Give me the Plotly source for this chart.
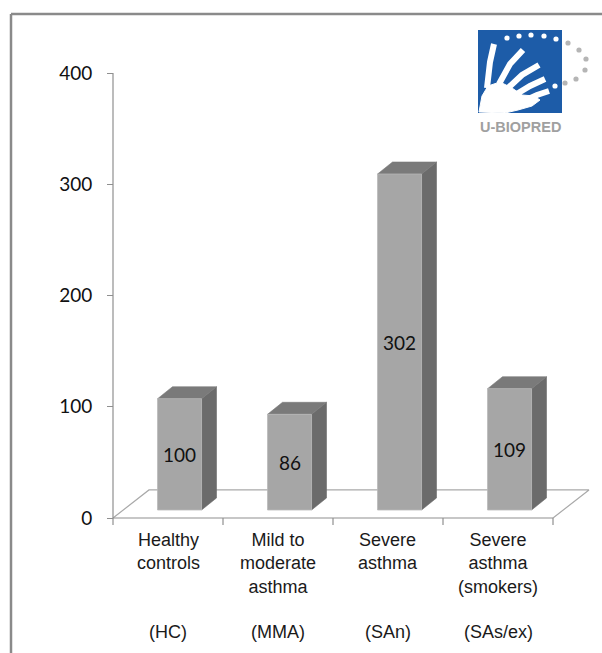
import plotly.graph_objects as go

# ---------------- data ----------------
categories = ["Healthy<br>controls", "Mild to<br>moderate<br>asthma",
              "Severe<br>asthma", "Severe<br>asthma<br>(smokers)"]
abbreviations = ["(HC)", "(MMA)", "(SAn)", "(SAs/ex)"]
values = [100, 86, 302, 109]
y_ticks = [0, 100, 200, 300, 400]

# ---------------- pseudo-3D geometry (axis units) ----------------
BAR_W = 0.40          # bar width in category units
FRONT_DX, FRONT_DY = 0.105, 7.2    # shift of bar front plane from floor front edge
DEPTH_DX, DEPTH_DY = 0.136, 10.8   # bar depth projection
FLOOR_DX, FLOOR_DY = 0.327, 25.2   # floor depth projection
TICK_LEN = 6.3

W, H = 602, 653
PX_PER_CAT, PX_PER_VAL = 110.0, 1.1125
AX_X_PX, AX_Y_PX = 113.0, 518.0    # pixel position of (x=-0.5, y=0)

x_range = [-0.5 - AX_X_PX / PX_PER_CAT, -0.5 + (W - AX_X_PX) / PX_PER_CAT]
y_range = [-(H - AX_Y_PX) / PX_PER_VAL, AX_Y_PX / PX_PER_VAL]

AXIS_COL = "#8f8f8f"
FRONT_COL = "#a6a6a6"
SIDE_COL = "#6b6b6b"
TOP_COL = "#7a7a7a"

fig = go.Figure()
n = len(values)
xl, xr = -0.5, n - 0.5

def poly(xs, ys, color, lc=None, lw=0.6):
    fig.add_trace(go.Scatter(x=xs + [xs[0]], y=ys + [ys[0]], mode="lines",
                             fill="toself", fillcolor=color,
                             line=dict(color=lc or color, width=lw),
                             hoverinfo="skip", showlegend=False))

# floor outline
fig.add_trace(go.Scatter(x=[xl, xl + FLOOR_DX, xr + FLOOR_DX, xr],
                         y=[0, FLOOR_DY, FLOOR_DY, 0], mode="lines",
                         line=dict(color="#a9a9a9", width=1.2),
                         hoverinfo="skip", showlegend=False))

# baseline + category ticks
bx, by = [xl, xr], [0, 0]
for k in range(n + 1):
    bx += [None, xl + k, xl + k]
    by += [None, 0, -TICK_LEN]
fig.add_trace(go.Scatter(x=bx, y=by, mode="lines",
                         line=dict(color=AXIS_COL, width=1.2),
                         hoverinfo="skip", showlegend=False))

# value axis line
fig.add_trace(go.Scatter(x=[xl, xl], y=[0, max(y_ticks)], mode="lines",
                         line=dict(color=AXIS_COL, width=1.2),
                         hoverinfo="skip", showlegend=False))

# bars
for i, v in enumerate(values):
    x0 = i + FRONT_DX - BAR_W / 2
    x1 = x0 + BAR_W
    y0 = FRONT_DY
    y1 = v + FRONT_DY
    poly([x1, x1, x1 + DEPTH_DX, x1 + DEPTH_DX],
         [y0, y1, y1 + DEPTH_DY, y0 + DEPTH_DY], SIDE_COL)
    poly([x0, x0 + DEPTH_DX, x1 + DEPTH_DX, x1],
         [y1, y1 + DEPTH_DY, y1 + DEPTH_DY, y1], TOP_COL)
    poly([x0, x0, x1, x1], [y0, y1, y1, y0], FRONT_COL, lc="#b8b8b8", lw=0.8)
    fig.add_annotation(x=i + FRONT_DX, y=y0 + v / 2, text=str(v), showarrow=False,
                       font=dict(family="Lato", size=19, color="#111111"),
                       xanchor="center", yanchor="middle")

# category labels
for i, (c, a) in enumerate(zip(categories, abbreviations)):
    fig.add_annotation(x=i, y=-9, text=c, showarrow=False, xanchor="center",
                       yanchor="top", align="center",
                       font=dict(family="Liberation Sans", size=18, color="#1a1a1a"))
    fig.add_annotation(x=i, y=-102.5, text=a, showarrow=False, xanchor="center",
                       yanchor="middle",
                       font=dict(family="Liberation Sans", size=18, color="#1a1a1a"))

# ---------------- decoration: frame + logo ----------------
def px(xp):
    return xp / W

def py(yp):
    return 1 - yp / H

shapes = [
    dict(type="line", xref="paper", yref="paper", x0=px(11), x1=px(602), y0=py(14), y1=py(14),
         line=dict(color="#8a8a8a", width=2.5)),
    dict(type="line", xref="paper", yref="paper", x0=px(11), x1=px(11), y0=py(14), y1=py(653),
         line=dict(color="#8a8a8a", width=2.5)),
    dict(type="rect", xref="paper", yref="paper", x0=px(478), x1=px(562), y0=py(113), y1=py(30),
         fillcolor="#1d5ca8", line=dict(width=0)),
]

def path_px(points):
    return "M " + " L ".join(f"{px(a):.5f},{py(b):.5f}" for a, b in points) + " Z"

# hand (white)
palm = [(479, 112), (482, 96), (488, 86), (500, 82), (512, 88), (522, 95),
        (534, 96), (540, 100), (532, 106), (518, 110), (505, 113)]
shapes.append(dict(type="path", xref="paper", yref="paper", path=path_px(palm),
                   fillcolor="white", line=dict(color="white", width=1)))
fingers = [((487, 88), (490, 62), (494, 44)),
           ((499, 84), (510, 64), (523, 50)),
           ((508, 88), (522, 75), (539, 65)),
           ((515, 95), (530, 86), (545, 79)),
           ((524, 101), (537, 95), (549, 91))]
for pts in fingers:
    path = "M " + " L ".join(f"{px(a):.5f},{py(b):.5f}" for a, b in pts)
    shapes.append(dict(type="path", xref="paper", yref="paper", path=path,
                       line=dict(color="white", width=6)))
# dots
white_dots = [(507, 38), (519, 36), (531, 35), (544, 36), (556, 39), (555, 86)]
grey_dots = [(568, 43), (579, 50), (586, 59), (585, 70), (576, 79), (565, 83)]
for (a, b) in white_dots + grey_dots:
    col = "white" if (a, b) in white_dots else "#b5b5b5"
    shapes.append(dict(type="circle", xref="paper", yref="paper",
                       x0=px(a - 2.6), x1=px(a + 2.6), y0=py(b + 2.6), y1=py(b - 2.6),
                       fillcolor=col, line=dict(width=0)))

fig.add_annotation(xref="paper", yref="paper", x=px(520), y=py(127), text="<b>U-BIOPRED</b>",
                   showarrow=False, xanchor="center", yanchor="middle",
                   font=dict(family="Liberation Sans", size=14.5, color="#a0a0a0"))

fig.update_layout(
    width=W, height=H, margin=dict(l=0, r=0, t=0, b=0),
    paper_bgcolor="white", plot_bgcolor="white", showlegend=False,
    shapes=shapes,
    xaxis=dict(range=x_range, visible=False, fixedrange=True),
    yaxis=dict(range=y_range, anchor="free", position=AX_X_PX / W, side="left",
               tickmode="array", tickvals=y_ticks, ticks="outside", ticklen=6,
               tickcolor=AXIS_COL, tickwidth=1.2, showline=False, showgrid=False,
               zeroline=False, ticklabelstandoff=11,
               tickfont=dict(family="Lato", size=19, color="#111111"), fixedrange=True),
)

fig.write_html("out.html")
